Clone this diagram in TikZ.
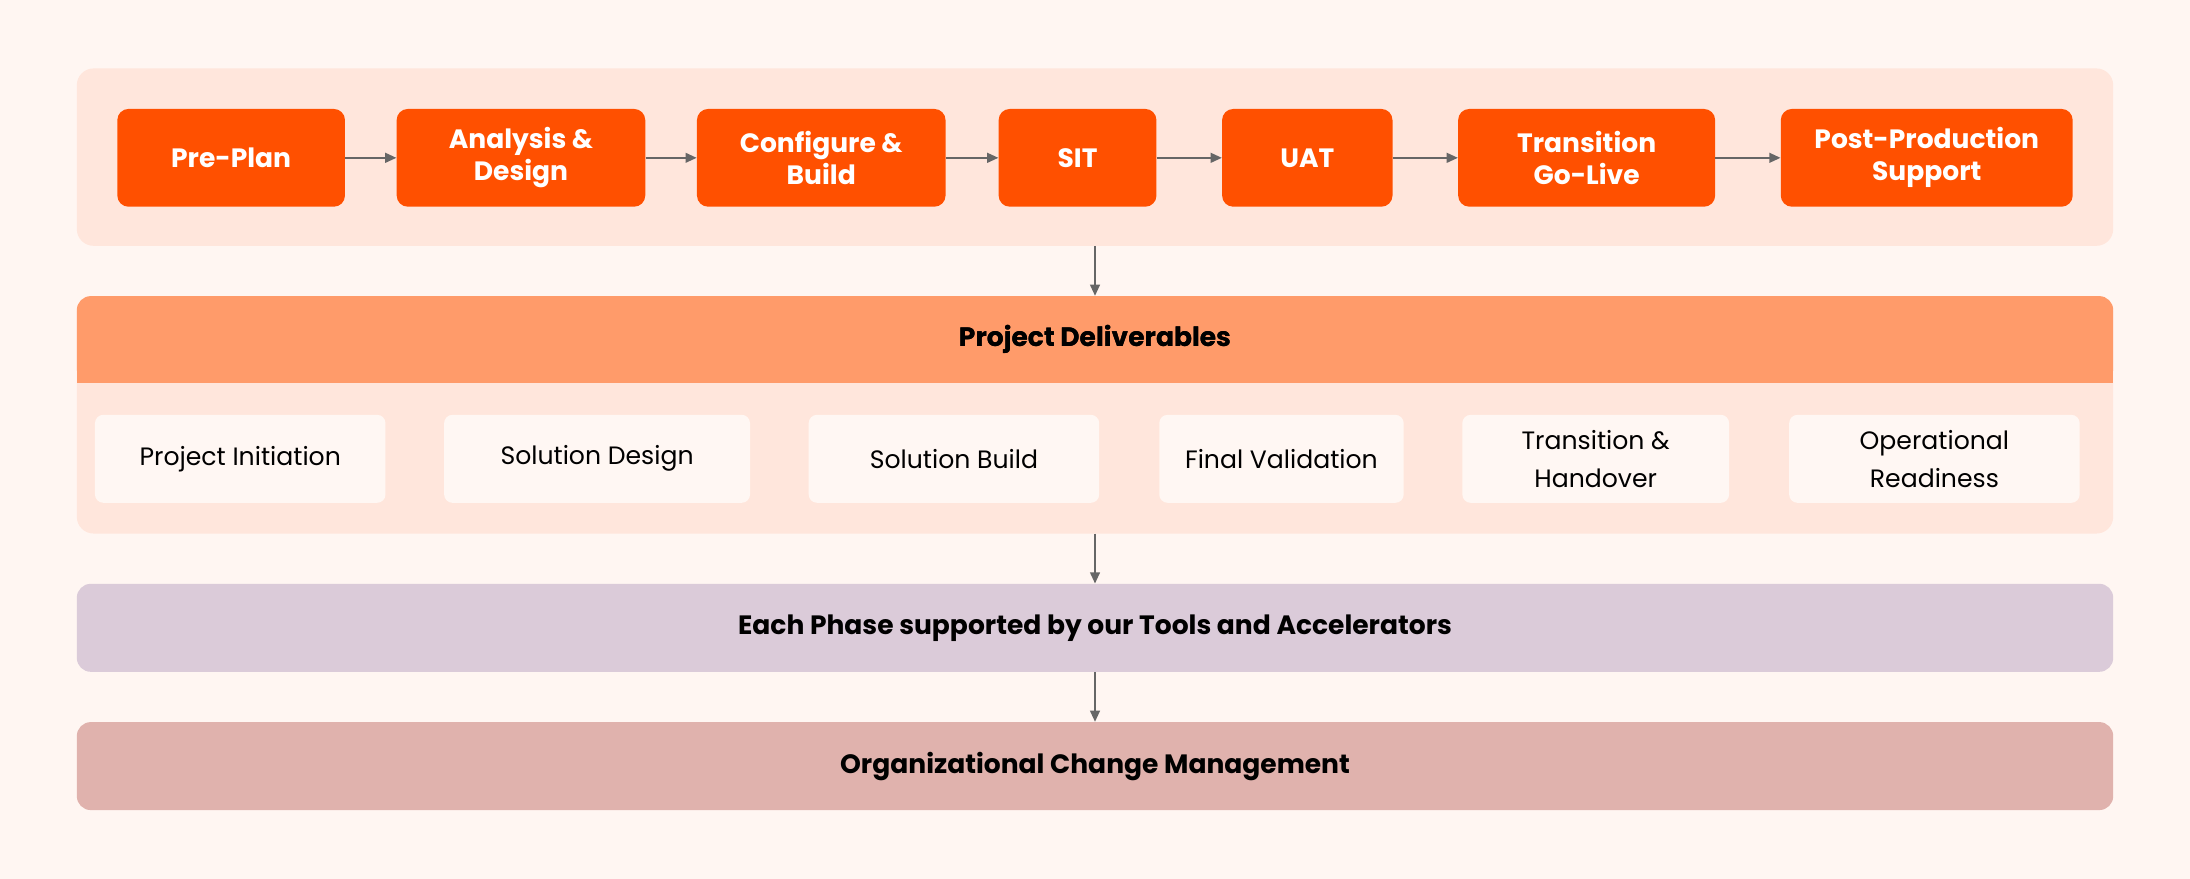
\documentclass[tikz,border=0pt]{standalone}
\usepackage{fontspec}
\setmainfont{Poppins}
\usetikzlibrary{arrows.meta}
\definecolor{bg}{HTML}{FFF6F2}
\definecolor{panel}{HTML}{FFE6DC}
\definecolor{phase}{HTML}{FF5000}
\definecolor{head}{HTML}{FF9B6A}
\definecolor{card}{HTML}{FFF7F3}
\definecolor{tools}{HTML}{DBCBD9}
\definecolor{ocm}{HTML}{E0B2AD}
\definecolor{arr}{HTML}{666666}
\begin{document}
\begin{tikzpicture}[x=1pt,y=-1pt,
  ph/.style={fill=phase,rounded corners=8pt,text=white,font=\fontsize{19}{23}\selectfont\bfseries,align=center},
  cd/.style={fill=card,rounded corners=6pt,font=\fontsize{18}{27}\selectfont,align=center},
  bar/.style={rounded corners=10pt,font=\fontsize{19}{23}\selectfont\bfseries},
  con/.style={draw=arr,line width=1.3pt,-{Triangle[length=8pt,width=7pt]}}]
\fill[bg] (0,0) rectangle (1568,629);
\useasboundingbox (0,0) rectangle (1568,629);
\fill[panel,rounded corners=12pt] (55,49) rectangle (1513,176);
\coordinate (top) at (784,176);
\newcommand{\bx}[6]{\node[#6,minimum width=#3-#2,minimum height=#5-#4] (#1) at ({(#2+#3)/2},{(#4+#5)/2})}
\bx{p1}{84}{247}{78}{148}{ph}{Pre-Plan};
\bx{p2}{284}{462}{78}{148}{ph}{Analysis \&\\Design};
\bx{p3}{499}{677}{78}{148}{ph}{Configure \&\\Build};
\bx{p4}{715}{828}{78}{148}{ph}{SIT};
\bx{p5}{875}{997}{78}{148}{ph}{UAT};
\bx{p6}{1044}{1228}{78}{148}{ph}{Transition\\Go-Live};
\bx{p7}{1275}{1484}{78}{148}{ph}{Post-Production\\Support};
\foreach \a/\b in {p1/p2,p2/p3,p3/p4,p4/p5,p5/p6,p6/p7} \draw[con] (\a) -- (\b);
\fill[panel,rounded corners=12pt] (55,212) rectangle (1513,382);
\node[bar,fill=head,minimum width=1458,minimum height=62] (pd) at (784,243) {Project Deliverables};
\fill[head] (55,262) rectangle (1513,274);
\fill[panel] (55,274) rectangle (1513,290);
\node[font=\fontsize{19}{23}\selectfont\bfseries] at (784,243) {Project Deliverables};
\coordinate (pdb) at (784,382);
\bx{d1}{68}{276}{297}{360}{cd}{Project Initiation};
\bx{d2}{318}{537}{297}{360}{cd}{Solution Design};
\bx{d3}{579}{787}{297}{360}{cd}{Solution Build};
\bx{d4}{830}{1005}{297}{360}{cd}{Final Validation};
\bx{d5}{1047}{1238}{297}{360}{cd}{Transition \&\\Handover};
\bx{d6}{1281}{1489}{297}{360}{cd}{Operational\\Readiness};
\bx{tl}{55}{1513}{418}{481}{bar,fill=tools}{Each Phase supported by our Tools and Accelerators};
\bx{oc}{55}{1513}{517}{580}{bar,fill=ocm}{Organizational Change Management};
\draw[con] (top) -- (pd.north);
\draw[con] (pdb) -- (tl.north);
\draw[con] (tl.south) -- (oc.north);
\end{tikzpicture}
\end{document}
